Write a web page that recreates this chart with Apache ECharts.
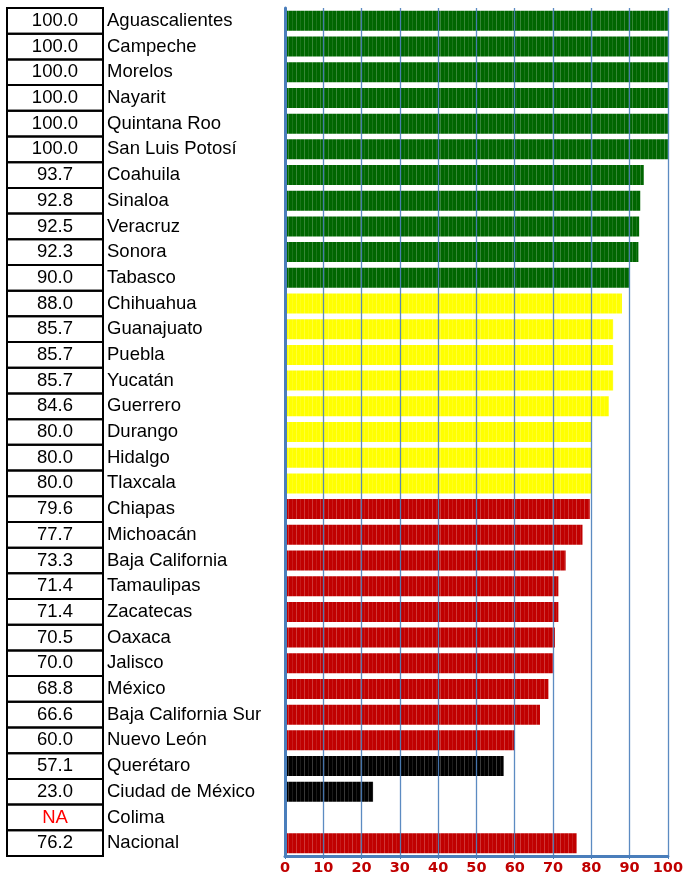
<!DOCTYPE html>
<html>
<head>
<meta charset="utf-8">
<script src="https://cdn.jsdelivr.net/npm/echarts@6/dist/echarts.min.js"></script>
<style>
html,body{margin:0;padding:0;background:#fff;}
#main{width:686px;height:878px;}
</style>
</head>
<body>
<div id="main"></div>
<script>
// estados y porcentaje
var names = ['Aguascalientes','Campeche','Morelos','Nayarit','Quintana Roo','San Luis Potosí',
	'Coahuila','Sinaloa','Veracruz','Sonora','Tabasco','Chihuahua','Guanajuato','Puebla','Yucatán',
	'Guerrero','Durango','Hidalgo','Tlaxcala','Chiapas','Michoacán','Baja California','Tamaulipas',
	'Zacatecas','Oaxaca','Jalisco','México','Baja California Sur','Nuevo León','Querétaro',
	'Ciudad de México','Colima','Nacional'];
var values = [100.0,100.0,100.0,100.0,100.0,100.0,93.7,92.8,92.5,92.3,90.0,88.0,85.7,85.7,85.7,
	84.6,80.0,80.0,80.0,79.6,77.7,73.3,71.4,71.4,70.5,70.0,68.8,66.6,60.0,57.1,23.0,null,76.2];
var groups = ['g','g','g','g','g','g','g','g','g','g','g',
	'y','y','y','y','y','y','y','y',
	'r','r','r','r','r','r','r','r','r','r',
	'k','k','-','r'];
var xTicks = [0,100,10];

var baseColors = {g:'#006600', y:'#ffff00', r:'#c00000', k:'#000000'};

// franjas verticales de las barras
function stripes(c){
	var cv = document.createElement('canvas');
	cv.width = 16; cv.height = 4;
	var ctx = cv.getContext('2d');
	ctx.fillStyle = c;
	ctx.fillRect(0,0,16,4);
	ctx.fillStyle = 'rgba(255,255,255,0.22)';
	ctx.fillRect(0,0,1,4);
	ctx.fillRect(8,0,1,4);
	ctx.fillStyle = 'rgba(255,255,255,0.1)';
	ctx.fillRect(4,0,1,4);
	ctx.fillRect(12,0,1,4);
	return {image: cv, repeat: 'repeat'};
}

var data = [];
for (var i = 0; i < values.length; i++) {
	var g = groups[i];
	data.push({
		value: values[i],
		itemStyle: {color: g == '-' ? 'transparent' : stripes(baseColors[g])}
	});
}

var axisBlue = '#4a7ebb';
var rowH = (878 - 8 - 22) / names.length;
var myChart = echarts.init(document.getElementById('main'));
myChart.setOption({
	animation: false,
	grid: {left: 285, right: 13, top: 8, bottom: 22},
	xAxis: {
		type: 'value', min: xTicks[0], max: xTicks[1], interval: xTicks[2], z: 5,
		axisLine: {show: true, lineStyle: {color: axisBlue, width: 3}},
		axisTick: {show: true, length: 3, lineStyle: {color: axisBlue}},
		splitLine: {show: true, lineStyle: {color: axisBlue, width: 1.3, opacity: 0.9}},
		axisLabel: {color: '#c00000', fontWeight: 'bold', fontSize: 14.5, fontFamily: 'DejaVu Sans', margin: 5}
	},
	yAxis: {
		type: 'category', inverse: true, data: names, z: 5,
		axisLine: {show: true, lineStyle: {color: axisBlue, width: 3}},
		axisTick: {show: false},
		axisLabel: {
			interval: 0, hideOverlap: false, showMinLabel: true, showMaxLabel: true,
			margin: 278, align: 'left', verticalAlign: 'middle',
			formatter: function(name, idx){
				var v = values[idx];
				var cell = v == null ? '{na|NA}' : '{v|' + v.toFixed(1) + '}';
				return cell + '{n|' + name + '}';
			},
			rich: {
				v: {width: 96, height: rowH, lineHeight: rowH, align: 'center', borderColor: '#000', borderWidth: 2,
					fontSize: 18.5, fontFamily: 'Liberation Sans', color: '#000'},
				na: {width: 96, height: rowH, lineHeight: rowH, align: 'center', borderColor: '#000', borderWidth: 2,
					fontSize: 18.5, fontFamily: 'Liberation Sans', color: '#ff0000'},
				n: {fontSize: 18.5, fontFamily: 'Liberation Sans', color: '#000', padding: [0,0,0,4]}
			}
		}
	},
	series: [{
		type: 'bar',
		data: data,
		barWidth: 20
	}]
});
</script>
</body>
</html>
